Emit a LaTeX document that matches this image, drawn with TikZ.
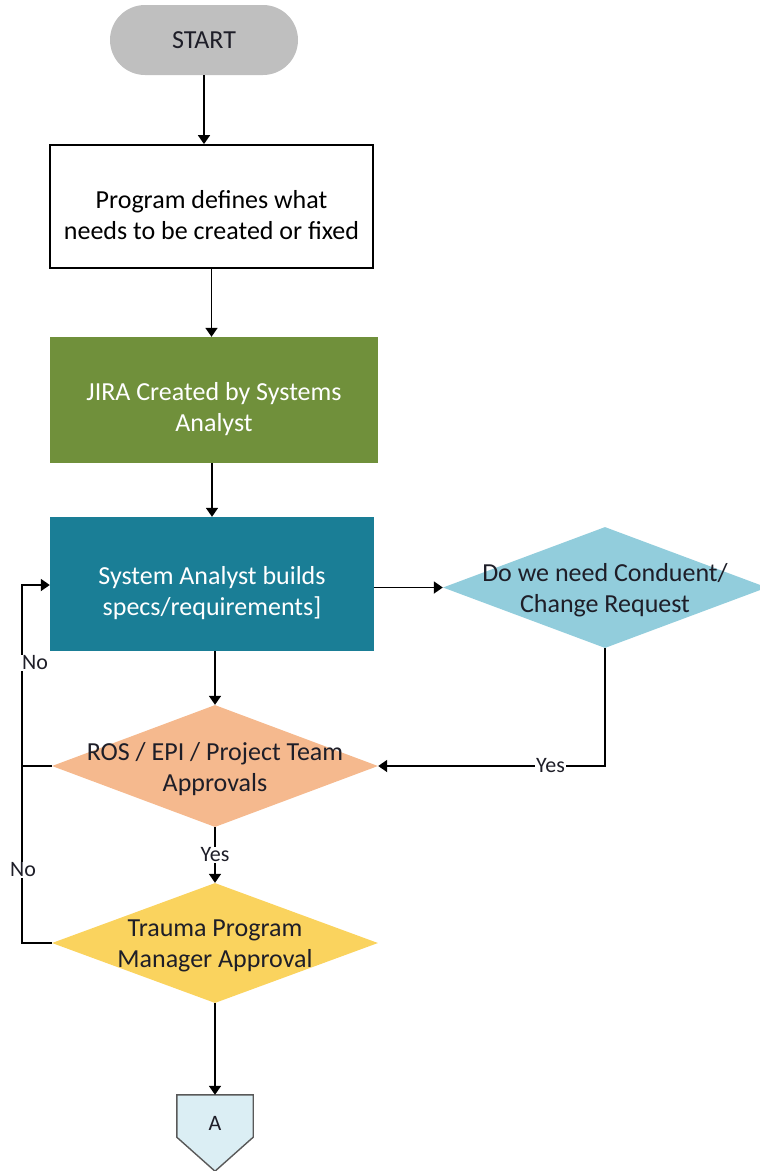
\documentclass[tikz,border=0pt]{standalone}
\usepackage{fontspec}
\setmainfont{Carlito}
\usetikzlibrary{arrows.meta,shapes.geometric,backgrounds}
\definecolor{startgray}{HTML}{BFBFBF}
\definecolor{jiragreen}{HTML}{70903B}
\definecolor{specteal}{HTML}{1A7E96}
\definecolor{condblue}{HTML}{92CDDC}
\definecolor{rosorange}{HTML}{F5B98E}
\definecolor{tpmyellow}{HTML}{FAD35E}
\definecolor{pagefill}{HTML}{DBEEF4}
\definecolor{pageedge}{HTML}{595959}
\definecolor{inkdark}{HTML}{1E1E28}
\begin{document}
\begin{tikzpicture}[x=1pt,y=-1pt,
  every node/.style={font=\fontsize{26}{31}\selectfont, align=center, text=inkdark},
  startbox/.style={fill=startgray, rounded corners=35pt, minimum width=188pt, minimum height=70pt, inner sep=0pt},
  plainbox/.style={draw=black, line width=1.8pt, fill=white, inner sep=0pt},
  colorbox/.style={fill=#1, inner sep=0pt},
  decision/.style={diamond, fill=#1, inner sep=0pt},
  boxtext/.style={inner sep=0pt, yshift=-9pt},
  dlabel/.style={inner sep=0pt, yshift=-3pt, text=inkdark},
  lbl/.style={fill=white, inner sep=1pt, font=\fontsize{22}{24}\selectfont},
  flow/.style={draw=black, line width=1.8pt, -{Triangle[length=9pt,width=12pt]}},
  link/.style={draw=black, line width=1.8pt}
]
\useasboundingbox (0,0) rectangle (760,1171);

% process steps
\node[startbox] (start) at (204,40) {START};
\node[plainbox, minimum width=323pt, minimum height=123pt] (define) at (211.5,206.5) {};
\node[boxtext, text=black] (define-t) at (define) {Program defines what\\needs to be created or fixed};
\node[colorbox=jiragreen, minimum width=328pt, minimum height=126pt] (jira) at (214,400) {};
\node[boxtext, text=white] (jira-t) at (jira) {JIRA Created by Systems\\Analyst};
\node[colorbox=specteal, minimum width=324pt, minimum height=134pt] (specs) at (212,584) {};
\node[boxtext, text=white] (specs-t) at (specs) {System Analyst builds\\specs/requirements]};

% decisions
\node[decision=condblue, minimum width=324pt, minimum height=121pt] (cond) at (605,587.5) {};
\node[dlabel] (cond-t) at (cond) {Do we need Conduent/\\Change Request};
\node[decision=rosorange, minimum width=326pt, minimum height=122pt] (ros) at (215,766) {};
\node[dlabel] (ros-t) at (ros) {ROS / EPI / Project Team\\Approvals};
\node[decision=tpmyellow, minimum width=326pt, minimum height=120pt] (tpm) at (215,943) {};
\node[dlabel] (tpm-t) at (tpm) {Trauma Program\\Manager Approval};

% off-page connector
\node[minimum width=76pt, minimum height=56pt, inner sep=0pt, font=\fontsize{22}{24}\selectfont] (A) at (215,1123) {A};
\begin{scope}[on background layer]
  \filldraw[fill=pagefill, draw=pageedge, line width=1.4pt]
    (A.north west) -- (A.north east) -- ([yshift=14pt]A.south east)
    -- ([yshift=-20pt]A.south) -- ([yshift=14pt]A.south west) -- cycle;
\end{scope}

% connectors
\coordinate (loop) at (22,585);
\draw[flow] (start.south) -- (start.south |- define.north);
\draw[flow] (define.south) -- (define.south |- jira.north);
\draw[flow] (specs.north |- jira.south) -- (specs.north);
\draw[flow] (specs.east |- cond.west) -- (cond.west);
\draw[flow] (ros.north |- specs.south) -- (ros.north);
\draw[flow] (cond.south) |- (ros.east) node[lbl, pos=0.62] (yes1) {Yes};
\draw[flow] (ros.south) -- (tpm.north) node[lbl, midway] (yes2) {Yes};
\draw[flow] (tpm.south) -- (A.north);
\draw[link] (ros.west) -- (ros.west -| loop);
\draw[flow] (tpm.west) -| (loop) -- (loop -| specs.west);
\node[lbl] (no1) at (35,663) {No};
\node[lbl] (no2) at (23,870) {No};
\end{tikzpicture}
\end{document}
